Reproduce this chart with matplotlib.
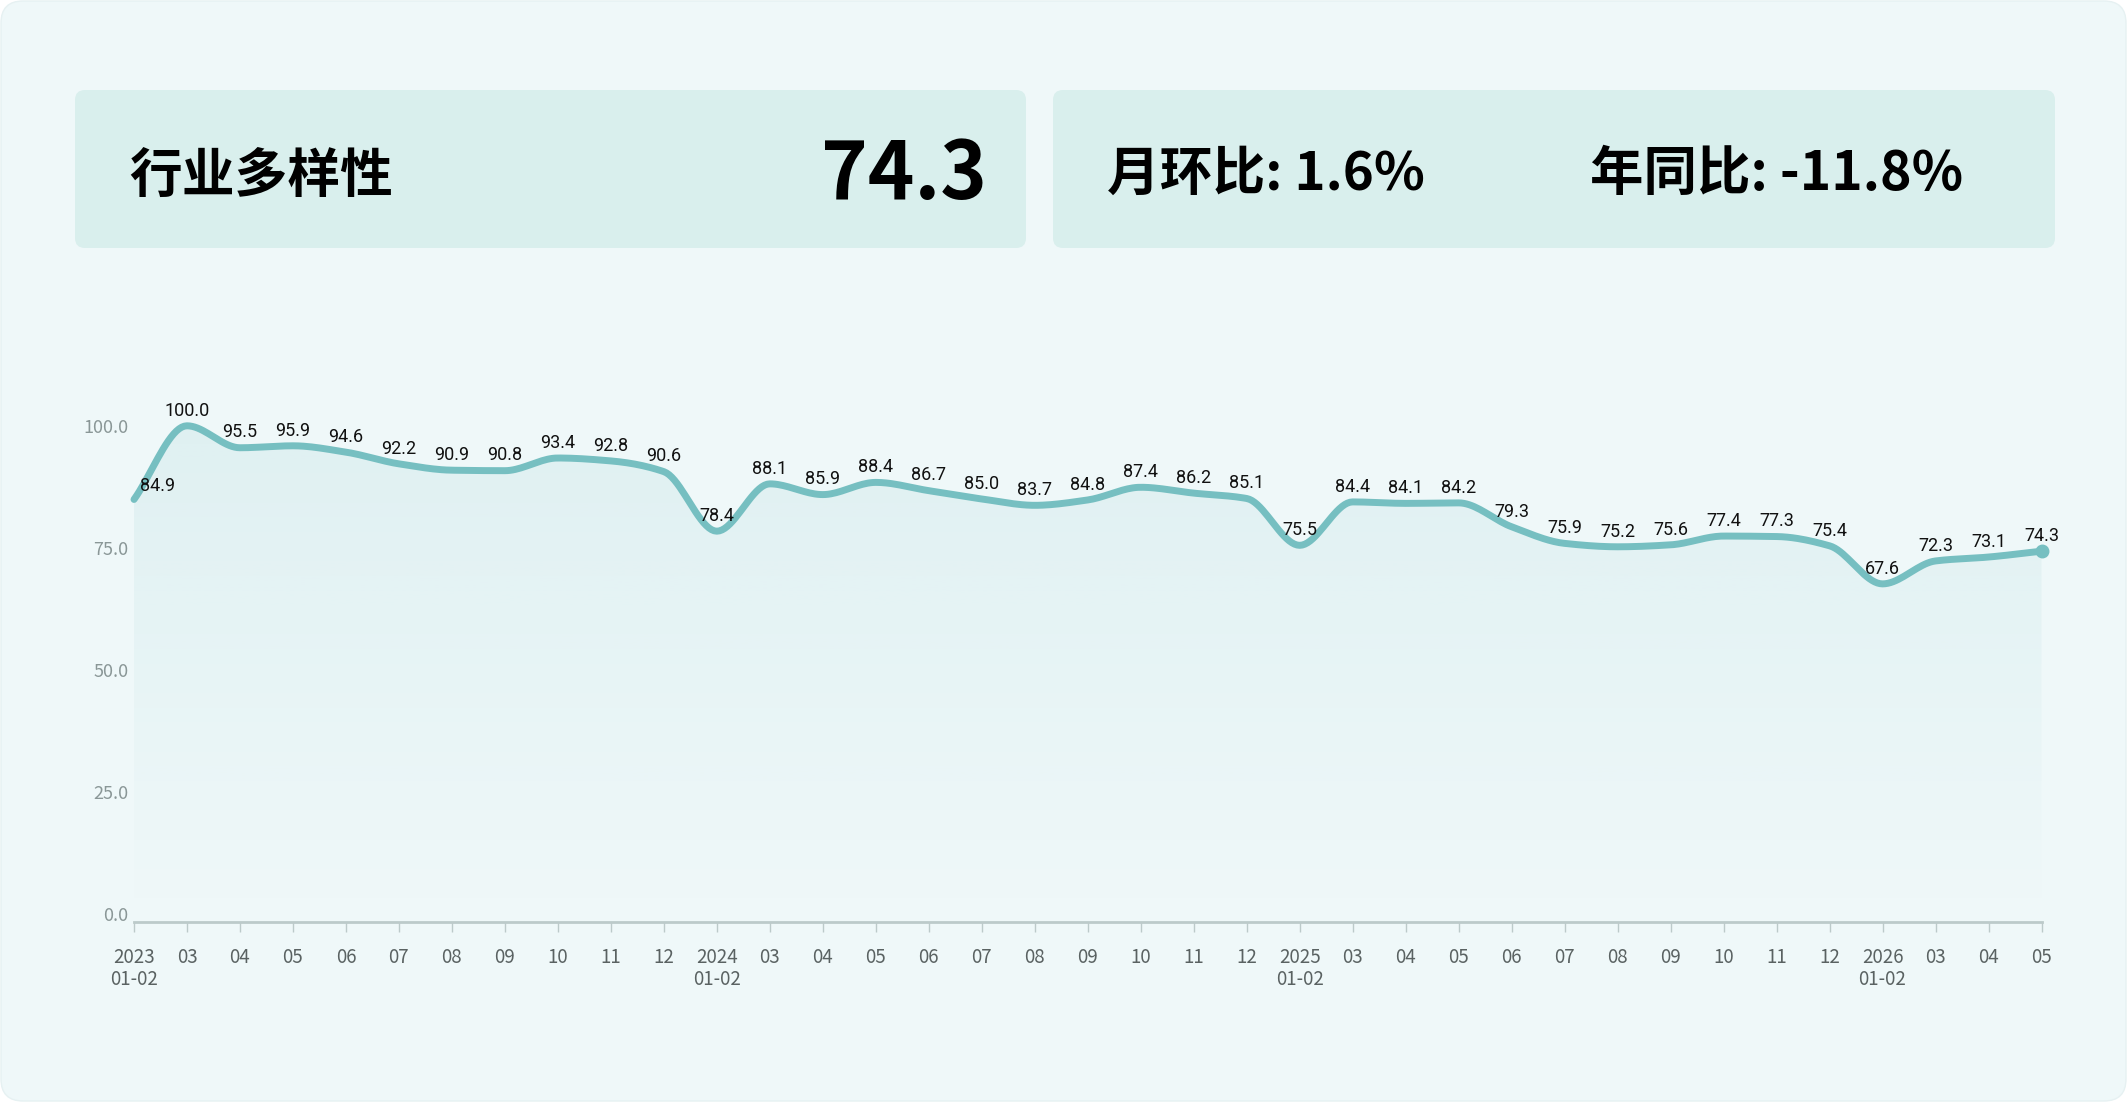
import numpy as np
import matplotlib
matplotlib.use("Agg")
import matplotlib.pyplot as plt
from matplotlib.patches import FancyBboxPatch, Polygon
from matplotlib.transforms import IdentityTransform

plt.rcParams['font.family'] = ['Noto Sans CJK SC', 'DejaVu Sans']

# data
labels = ["2023\n01-02", "03", "04", "05", "06", "07", "08", "09", "10", "11", "12",
          "2024\n01-02", "03", "04", "05", "06", "07", "08", "09", "10", "11", "12",
          "2025\n01-02", "03", "04", "05", "06", "07", "08", "09", "10", "11", "12",
          "2026\n01-02", "03", "04", "05"]
values = [84.9, 100.0, 95.5, 95.9, 94.6, 92.2, 90.9, 90.8, 93.4, 92.8, 90.6,
          78.4, 88.1, 85.9, 88.4, 86.7, 85.0, 83.7, 84.8, 87.4, 86.2, 85.1,
          75.5, 84.4, 84.1, 84.2, 79.3, 75.9, 75.2, 75.6, 77.4, 77.3, 75.4,
          67.6, 72.3, 73.1, 74.3]
y_ticks = [0, 25, 50, 75, 100]
title = "行业多样性"
current = "74.3"
mom = "月环比: 1.6%"
yoy = "年同比: -11.8%"

BG = "#eff8f9"
CARD = "#d9efed"
LINE = "#76bfc1"
W, H = 2127, 1102


def smooth(x, y, n=20):
    # monotone cubic (Fritsch-Carlson) just for drawing the curve
    x = np.asarray(x, float)
    y = np.asarray(y, float)
    h = np.diff(x)
    d = np.diff(y) / h
    m = np.zeros_like(y)
    m[0], m[-1] = d[0], d[-1]
    for i in range(1, len(y) - 1):
        if d[i - 1] * d[i] > 0:
            m[i] = 2 / (1 / d[i - 1] + 1 / d[i])
    xs, ys = [], []
    for i in range(len(x) - 1):
        t = np.linspace(0, 1, n, endpoint=False)
        h00 = 2 * t**3 - 3 * t**2 + 1
        h10 = t**3 - 2 * t**2 + t
        h01 = -2 * t**3 + 3 * t**2
        h11 = t**3 - t**2
        xs.append(x[i] + t * h[i])
        ys.append(h00 * y[i] + h10 * h[i] * m[i] + h01 * y[i + 1] + h11 * h[i] * m[i + 1])
    xs.append([x[-1]])
    ys.append([y[-1]])
    return np.concatenate(xs), np.concatenate(ys)


fig = plt.figure(figsize=(W / 100, H / 100), dpi=100)
fig.patch.set_facecolor("white")

# background panel and cards (pixel coordinates)
for xy, w, h, fc, ec, r in [((1, 1), W - 2, H - 2, BG, "#e6f1f2", 22),
                            ((75, H - 248), 951, 158, CARD, "none", 10),
                            ((1053, H - 248), 1002, 158, CARD, "none", 10)]:
    p = FancyBboxPatch(xy, w, h, boxstyle=f"round,pad=0,rounding_size={r}",
                       transform=IdentityTransform(), facecolor=fc, edgecolor=ec, lw=1, zorder=-5)
    fig.patches.append(p)

fig.text(129 / W, 1 - 176 / H, title, fontsize=38, fontweight="bold", va="center", ha="left")
fig.text(987 / W, 1 - 175 / H, current, fontsize=57, fontweight="bold", va="center", ha="right")
fig.text(1107 / W, 1 - 174 / H, mom, fontsize=38, fontweight="bold", va="center", ha="left")
fig.text(1590 / W, 1 - 174 / H, yoy, fontsize=38.5, fontweight="bold", va="center", ha="left")

# chart
x = np.arange(len(values))
ax = fig.add_axes([134 / W, 1 - 922 / H, (2041.5 - 134) / W, (922 - 377) / H])
ax.set_facecolor("none")

sx, sy = smooth(x, values)
ax.plot(sx, sy, color=LINE, lw=5, solid_capstyle="round", zorder=4, clip_on=False)
ax.plot(x[-1], values[-1], "o", color=LINE, markersize=9, zorder=5, clip_on=False)

# gradient area
grad = np.zeros((200, 2, 4))
rgb = np.array([118, 191, 193]) / 255
grad[..., :3] = rgb
grad[..., 3] = np.linspace(0.0, 0.13, 200)[:, None]
im = ax.imshow(grad, extent=[0, len(values) - 1, 0, 100], origin="lower", aspect="auto",
               zorder=2, interpolation="bilinear")
poly = Polygon(np.column_stack([np.r_[sx, sx[-1], sx[0]], np.r_[sy, 0, 0]]),
               closed=True, facecolor="none", edgecolor="none", transform=ax.transData)
ax.add_patch(poly)
im.set_clip_path(poly)
ax.set_xlim(0, len(values) - 1)
ax.set_ylim(-1.7, 110)

for i, v in enumerate(values):
    if i == 0:
        ax.annotate(f"{v:.1f}", (i, v), xytext=(4, 10), textcoords="offset points",
                    ha="left", va="center", fontsize=13, family="Roboto", color="#111111", zorder=6)
    else:
        ax.annotate(f"{v:.1f}", (i, v), xytext=(0, 11), textcoords="offset points",
                    ha="center", va="center", fontsize=13, family="Roboto", color="#111111", zorder=6)

ax.set_xticks(x)
ax.set_xticklabels(labels, fontsize=13.5, color="#5a6262", va="top", linespacing=1.05)
ax.set_yticks(y_ticks)
ax.set_yticklabels([f"{t:.1f}" for t in y_ticks], fontsize=13, color="#8a9797")
ax.tick_params(axis="x", length=7, width=1, color="#bccaca", pad=11)
ax.tick_params(axis="y", length=0, pad=4)
for s in ["top", "right", "left"]:
    ax.spines[s].set_visible(False)
ax.spines["bottom"].set_color("#bccaca")
ax.spines["bottom"].set_linewidth(2)

fig.savefig("out.png", dpi=100, facecolor=fig.get_facecolor())
